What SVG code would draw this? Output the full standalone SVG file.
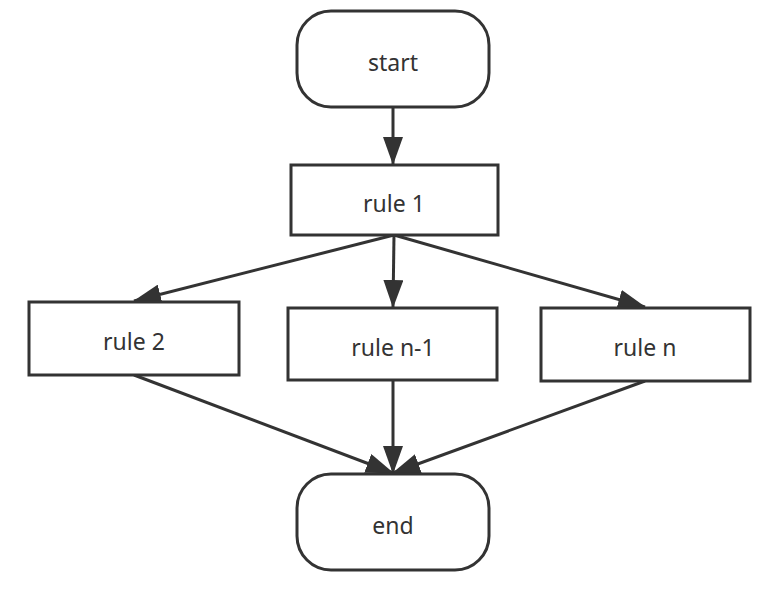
<svg xmlns="http://www.w3.org/2000/svg" width="763" height="608" viewBox="0 0 763 608">
<style>
.box{fill:#fff;stroke:#333;stroke-width:3}
.lbl{font-family:"Noto Sans","Open Sans","DejaVu Sans",sans-serif;font-size:23px;fill:#333;text-anchor:middle}
.edge{fill:none;stroke:#333;stroke-width:3}
</style>
<defs>
<marker id="arr" viewBox="0 0 28 20" refX="27" refY="10" markerWidth="28" markerHeight="20" markerUnits="userSpaceOnUse" orient="auto">
<path d="M0,0 L28,10 L0,20 Z" fill="#333"/>
</marker>
</defs>
<rect width="763" height="608" fill="#fff"/>
<g id="connectors">
<path class="edge" d="M393,107 L393,164" marker-end="url(#arr)"/>
<path class="edge" d="M394,235 L134,301" marker-end="url(#arr)"/>
<path class="edge" d="M394,235 L393,307" marker-end="url(#arr)"/>
<path class="edge" d="M394,235 L645,307" marker-end="url(#arr)"/>
<path class="edge" d="M134,375 L393,473" marker-end="url(#arr)"/>
<path class="edge" d="M393,380 L393,473" marker-end="url(#arr)"/>
<path class="edge" d="M645,381 L393,473" marker-end="url(#arr)"/>
</g>
<g id="start">
<rect class="box" x="297" y="11" width="192" height="96" rx="34" ry="34"/>
<text class="lbl" x="393" y="71">start</text>
</g>
<g id="rule1">
<rect class="box" x="291" y="165" width="207" height="70"/>
<text class="lbl" x="394" y="212">rule 1</text>
</g>
<g id="rule2">
<rect class="box" x="29" y="302" width="210" height="73"/>
<text class="lbl" x="134" y="350">rule 2</text>
</g>
<g id="rulen1">
<rect class="box" x="288" y="308" width="209" height="72"/>
<text class="lbl" x="393" y="356">rule n-1</text>
</g>
<g id="rulen">
<rect class="box" x="541" y="308" width="209" height="73"/>
<text class="lbl" x="645" y="356">rule n</text>
</g>
<g id="end">
<rect class="box" x="297" y="474" width="192" height="96" rx="34" ry="34"/>
<text class="lbl" x="393" y="534">end</text>
</g>
</svg>
